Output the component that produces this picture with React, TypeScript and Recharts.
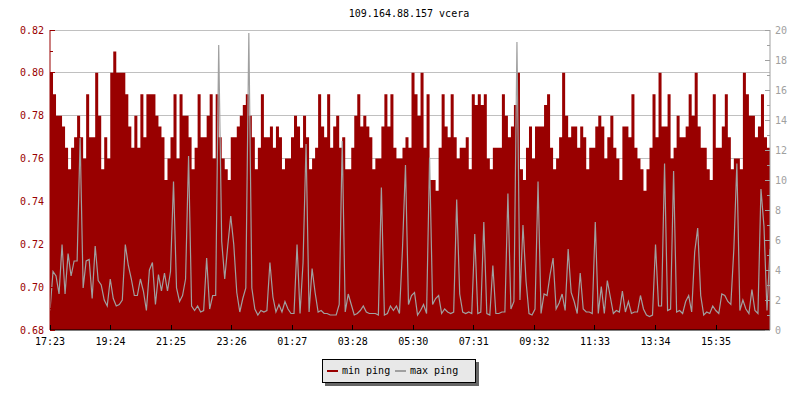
import React from 'react';
import { ComposedChart, Area, Line, XAxis, YAxis, CartesianGrid, Legend } from 'recharts';

const TITLE = '109.164.88.157 vcera';
const SERIES_NAMES = ['min ping', 'max ping'];
const SPAN_MINUTES = 1440;
const X_TICK_STEP = 121.1;
const X_TICK_LABELS = ['17:23', '19:24', '21:25', '23:26', '01:27', '03:28', '05:30', '07:31', '09:32', '11:33', '13:34', '15:35'];

// min ping (ms), one value per 6 minutes
const MIN_PING = [
  0.80, 0.79, 0.78, 0.78, 0.775, 0.765, 0.755, 0.765, 0.77, 0.78,
  0.77, 0.76, 0.79, 0.77, 0.77, 0.80, 0.78, 0.755, 0.77, 0.76,
  0.80, 0.81, 0.80, 0.80, 0.80, 0.79, 0.775, 0.765, 0.78, 0.765,
  0.79, 0.77, 0.79, 0.79, 0.79, 0.78, 0.775, 0.77, 0.75, 0.76,
  0.77, 0.79, 0.76, 0.79, 0.78, 0.78, 0.77, 0.755, 0.765, 0.79,
  0.77, 0.77, 0.78, 0.79, 0.76, 0.79, 0.77, 0.76, 0.755, 0.75,
  0.77, 0.77, 0.775, 0.78, 0.785, 0.79, 0.78, 0.77, 0.755, 0.765,
  0.79, 0.77, 0.77, 0.775, 0.765, 0.775, 0.77, 0.755, 0.76, 0.76,
  0.77, 0.78, 0.775, 0.765, 0.78, 0.77, 0.755, 0.76, 0.765, 0.79,
  0.775, 0.77, 0.79, 0.765, 0.775, 0.78, 0.765, 0.77, 0.755, 0.755,
  0.765, 0.78, 0.79, 0.775, 0.78, 0.775, 0.77, 0.755, 0.76, 0.76,
  0.775, 0.79, 0.775, 0.79, 0.765, 0.76, 0.76, 0.765, 0.77, 0.765,
  0.80, 0.79, 0.78, 0.80, 0.765, 0.79, 0.75, 0.75, 0.745, 0.765,
  0.79, 0.775, 0.77, 0.79, 0.77, 0.76, 0.765, 0.765, 0.77, 0.755,
  0.79, 0.785, 0.79, 0.785, 0.79, 0.76, 0.755, 0.765, 0.765, 0.765,
  0.79, 0.78, 0.77, 0.775, 0.785, 0.80, 0.755, 0.75, 0.765, 0.775,
  0.76, 0.775, 0.775, 0.775, 0.785, 0.79, 0.765, 0.755, 0.76, 0.77,
  0.80, 0.78, 0.77, 0.775, 0.775, 0.765, 0.775, 0.77, 0.755, 0.765,
  0.765, 0.775, 0.78, 0.775, 0.76, 0.77, 0.78, 0.765, 0.76, 0.75,
  0.775, 0.775, 0.77, 0.79, 0.765, 0.76, 0.755, 0.745, 0.755, 0.765,
  0.79, 0.77, 0.80, 0.775, 0.775, 0.79, 0.76, 0.765, 0.78, 0.77,
  0.77, 0.775, 0.79, 0.78, 0.80, 0.775, 0.765, 0.765, 0.755, 0.75,
  0.79, 0.765, 0.765, 0.775, 0.79, 0.77, 0.755, 0.76, 0.76, 0.755,
  0.80, 0.79, 0.78, 0.78, 0.77, 0.775, 0.79, 0.77, 0.765, 0.77,
];

// max ping (ms), one value per 6 minutes
const MAX_PING = [
  1.3, 3.9, 3.6, 2.4, 5.7, 2.4, 5.1, 3.6, 4.6, 4.6,
  12.8, 2.8, 4.6, 4.7, 2.1, 5.6, 3.3, 3.0, 2.0, 1.6,
  3.4, 2.1, 1.6, 1.7, 2.0, 5.7, 4.3, 3.4, 2.3, 2.3,
  3.4, 2.6, 1.3, 4.0, 4.5, 1.7, 3.7, 2.6, 3.8, 2.6,
  3.9, 9.9, 2.8, 1.9, 2.3, 3.4, 11.6, 1.6, 1.3, 1.6,
  1.2, 1.3, 4.8, 1.4, 2.3, 2.3, 19.0, 5.9, 3.4, 5.6,
  7.6, 5.7, 2.5, 1.2, 2.1, 2.8, 19.8, 2.8, 1.4, 1.0,
  1.3, 1.2, 1.3, 4.5, 2.2, 1.2, 1.7, 1.2, 1.9, 1.4,
  1.1, 1.1, 5.7, 1.1, 4.5, 12.4, 1.2, 4.1, 2.5, 1.2,
  1.3, 1.1, 1.1, 1.0, 1.0, 1.0, 1.7, 12.6, 1.2, 2.4,
  1.7, 1.0, 1.1, 1.3, 1.6, 1.2, 1.1, 1.1, 1.1, 1.0,
  9.5, 1.0, 1.1, 1.6, 1.3, 1.6, 1.1, 5.4, 11.0, 1.7,
  2.3, 2.5, 1.0, 1.3, 1.7, 1.1, 11.5, 1.7, 2.1, 2.3,
  1.1, 1.4, 1.2, 1.1, 1.2, 8.7, 2.4, 1.2, 1.1, 1.2,
  1.1, 6.4, 1.1, 1.2, 7.2, 1.1, 1.0, 4.3, 1.1, 1.1,
  1.2, 1.2, 9.1, 1.4, 1.9, 19.2, 2.0, 7.0, 3.3, 1.1,
  1.0, 1.4, 9.9, 1.1, 2.4, 2.3, 3.7, 4.8, 1.4, 1.8,
  2.4, 1.3, 5.4, 2.5, 1.9, 1.1, 3.8, 1.4, 1.2, 1.2,
  1.1, 7.2, 1.1, 2.9, 1.1, 3.3, 2.2, 1.1, 1.3, 1.2,
  2.6, 1.2, 1.9, 1.1, 1.2, 1.2, 2.3, 1.4, 1.0, 0.9,
  1.0, 5.7, 1.6, 1.6, 11.1, 1.3, 1.4, 10.6, 1.2, 1.3,
  1.1, 1.9, 2.3, 1.2, 5.2, 6.8, 2.3, 1.0, 1.2, 1.1,
  1.6, 1.3, 1.1, 2.4, 2.3, 1.9, 1.7, 5.4, 11.1, 1.3,
  2.0, 1.4, 1.1, 2.7, 1.3, 1.1, 9.4, 6.9, 1.3, 5.4,
];

const LEFT_TICKS = [0.68, 0.69, 0.70, 0.71, 0.72, 0.73, 0.74, 0.75, 0.76, 0.77, 0.78, 0.79, 0.80, 0.81, 0.82];
const LEFT_GRID = [0.70, 0.72, 0.74, 0.76, 0.78, 0.80, 0.82];
const RIGHT_TICKS = [0, 1, 2, 3, 4, 5, 6, 7, 8, 9, 10, 11, 12, 13, 14, 15, 16, 17, 18, 19, 20];

const RED = '#990000';
const GRAY = '#a0a0a0';
const GRID = '#c0c0c0';
const FONT = '"DejaVu Sans Mono", monospace';

const X_TICKS = X_TICK_LABELS.map((_, k) => k * X_TICK_STEP);
const data = MIN_PING.map((v, i) => ({
  t: (i * SPAN_MINUTES) / (MIN_PING.length - 1),
  min: v,
  max: MAX_PING[i],
}));

const LEFT_MARGIN = 6;
const RIGHT_MARGIN = 5;
const X_MARGIN = 15;

const LeftTick = (props: any) => {
  const { x, y, payload } = props;
  const v = payload.value as number;
  const major = Math.round(v * 100) % 2 === 0;
  const ax = x + LEFT_MARGIN;
  return (
    <g>
      <line x1={ax} x2={ax + (major ? 5 : 3)} y1={y} y2={y} stroke={RED} shapeRendering="crispEdges" />
      {major && (
        <text x={x} y={y} dy="0.36em" textAnchor="end" fill={RED} fontSize={10} fontFamily={FONT}>
          {v.toFixed(2)}
        </text>
      )}
    </g>
  );
};

const RightTick = (props: any) => {
  const { x, y, payload } = props;
  const v = payload.value as number;
  const major = v % 2 === 0;
  const ax = x - RIGHT_MARGIN;
  return (
    <g>
      <line x1={ax} x2={ax - (major ? 5 : 3)} y1={y} y2={y} stroke={GRAY} shapeRendering="crispEdges" />
      {major && (
        <text x={x} y={y} dy="0.36em" textAnchor="start" fill={GRAY} fontSize={10} fontFamily={FONT}>
          {String(v)}
        </text>
      )}
    </g>
  );
};

const XTick = (props: any) => {
  const { x, y, payload } = props;
  const k = Math.round(payload.value / X_TICK_STEP);
  const ay = y - X_MARGIN;
  return (
    <g>
      <line x1={x} x2={x} y1={ay} y2={ay - 5} stroke="#000" shapeRendering="crispEdges" />
      <text x={x} y={y} textAnchor="middle" fill="#000" fontSize={10} fontFamily={FONT}>
        {X_TICK_LABELS[k]}
      </text>
    </g>
  );
};

const LegendBox = (props: any) => {
  const payload = [...(props.payload || [])].sort(
    (a: any, b: any) => SERIES_NAMES.indexOf(a.value) - SERIES_NAMES.indexOf(b.value)
  );
  return (
    <div style={{ position: 'relative', width: 157, height: 27 }}>
      <div style={{ position: 'absolute', left: 3, top: 3, width: 154, height: 24, background: '#666666' }} />
      <div
        style={{
          position: 'absolute',
          left: 0,
          top: 0,
          width: 154,
          height: 24,
          boxSizing: 'border-box',
          border: '1px solid #000',
          background: '#e8e8e8',
          fontFamily: FONT,
          fontSize: 10,
          color: '#000',
        }}
      >
        {payload.map((entry: any, i: number) => (
          <div
            key={entry.value}
            style={{ position: 'absolute', left: 4 + i * 68, top: 0, height: 22, display: 'flex', alignItems: 'center' }}
          >
            <span style={{ display: 'inline-block', width: 11, height: 2, background: entry.color, marginRight: 4 }} />
            <span style={{ lineHeight: '22px', whiteSpace: 'pre' }}>{entry.value}</span>
          </div>
        ))}
      </div>
    </div>
  );
};

export default function App() {
  return (
    <div style={{ position: 'absolute', left: 0, top: 0, width: 800, height: 400, background: '#fff' }}>
      <div
        style={{
          position: 'absolute',
          left: 409,
          top: 8,
          transform: 'translateX(-50%)',
          whiteSpace: 'nowrap',
          fontFamily: FONT,
          fontSize: 10,
          lineHeight: '12px',
          color: '#000',
        }}
      >
        {TITLE}
      </div>
      <ComposedChart width={800} height={400} data={data} margin={{ top: 30, right: 0, bottom: 0, left: 0 }}>
        <CartesianGrid
          yAxisId="left"
          vertical={false}
          horizontalValues={LEFT_GRID}
          stroke={GRID}
          shapeRendering="crispEdges"
        />
        <XAxis
          dataKey="t"
          type="number"
          domain={[0, SPAN_MINUTES]}
          ticks={X_TICKS}
          interval={0}
          height={70}
          tickSize={0}
          tickMargin={X_MARGIN}
          tick={<XTick />}
          axisLine={{ stroke: '#000' }}
          allowDataOverflow
        />
        <YAxis
          yAxisId="left"
          orientation="left"
          width={50}
          domain={[0.68, 0.82]}
          ticks={LEFT_TICKS}
          interval={0}
          tickSize={0}
          tickMargin={LEFT_MARGIN}
          tick={<LeftTick />}
          axisLine={{ stroke: RED }}
          allowDataOverflow
        />
        <YAxis
          yAxisId="right"
          orientation="right"
          width={30}
          domain={[0, 20]}
          ticks={RIGHT_TICKS}
          interval={0}
          tickSize={0}
          tickMargin={RIGHT_MARGIN}
          tick={<RightTick />}
          axisLine={{ stroke: GRAY }}
          allowDataOverflow
        />
        <Area
          yAxisId="left"
          dataKey="min"
          name={SERIES_NAMES[0]}
          type="stepAfter"
          fill={RED}
          fillOpacity={1}
          stroke={RED}
          strokeWidth={0}
          dot={false}
          activeDot={false}
          isAnimationActive={false}
        />
        <Line
          yAxisId="right"
          dataKey="max"
          name={SERIES_NAMES[1]}
          type="linear"
          stroke={GRAY}
          strokeWidth={1.2}
          dot={false}
          activeDot={false}
          isAnimationActive={false}
        />
        <Legend
          layout="horizontal"
          verticalAlign="middle"
          align="center"
          content={<LegendBox />}
          wrapperStyle={{ left: 322, top: 359, width: 157, height: 27 }}
        />
      </ComposedChart>
    </div>
  );
}
